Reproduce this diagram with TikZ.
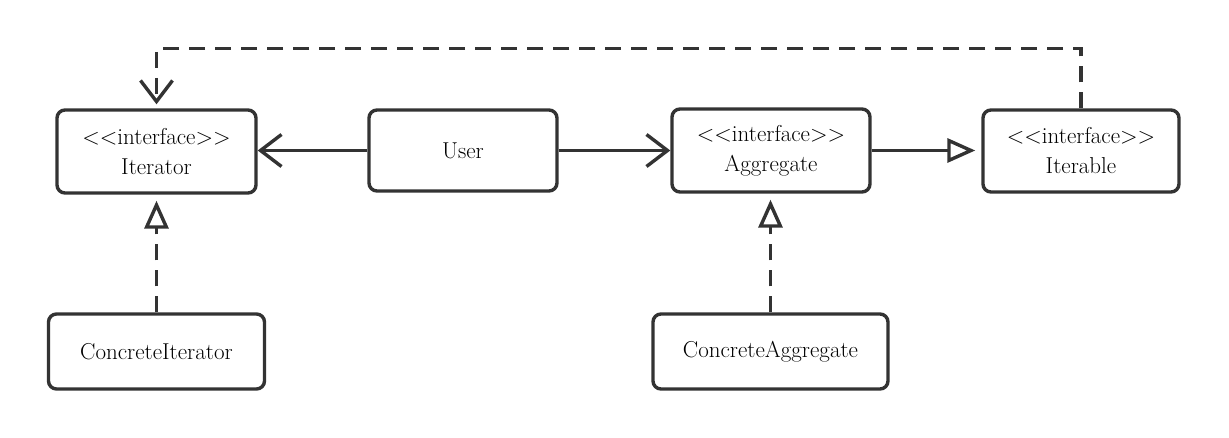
\documentclass[tikz,border=0pt]{standalone}
\usetikzlibrary{arrows.meta}
\definecolor{ln}{HTML}{333333}
\tikzset{
  box/.style={draw=ln, line width=3.4pt, rounded corners=8pt, fill=white, align=center,
    font=\fontsize{23}{30}\selectfont, text=black, inner sep=0pt},
  conn/.style={draw=ln, line width=3.4pt},
  assoc/.style={conn, -{Straight Barb[length=21pt,width=32pt]}},
  gen/.style={conn, -{Triangle[open,length=28pt,width=24pt]}, shorten >=6pt},
  realiz/.style={gen, dash pattern=on 16pt off 10pt},
  depend/.style={assoc, dash pattern=on 16pt off 10pt, shorten >=4pt}
}
\begin{document}
\begin{tikzpicture}[x=1pt,y=-1pt]
\useasboundingbox (0,0) rectangle (1229,438);
\node[box, minimum width=199pt, minimum height=83pt] (iter) at (156.5,151.5) {<{}<interface>{}>\\Iterator};
\node[box, minimum width=188pt, minimum height=81pt] (user) at (463,150.5) {User};
\node[box, minimum width=198pt, minimum height=83pt] (agg) at (771,150.5) {<{}<interface>{}>\\Aggregate};
\node[box, minimum width=196pt, minimum height=82pt] (itb) at (1081,151) {<{}<interface>{}>\\Iterable};
\node[box, minimum width=216pt, minimum height=75pt] (citer) at (156.5,351.5) {ConcreteIterator};
\node[box, minimum width=235pt, minimum height=75pt] (cagg) at (770.5,351.5) {ConcreteAggregate};
\draw[assoc] (user.west) -- (iter.east |- user.west);
\draw[assoc] (user.east) -- (agg.west |- user.east);
\draw[gen] (agg.east) -- (itb.west |- agg.east);
\draw[realiz] (citer.north) -- (iter.south);
\draw[realiz] (cagg.north) -- (agg.south -| cagg.north);
\draw[depend] (itb.north) -- ++(0,-60) -| (iter.north);
\end{tikzpicture}
\end{document}
